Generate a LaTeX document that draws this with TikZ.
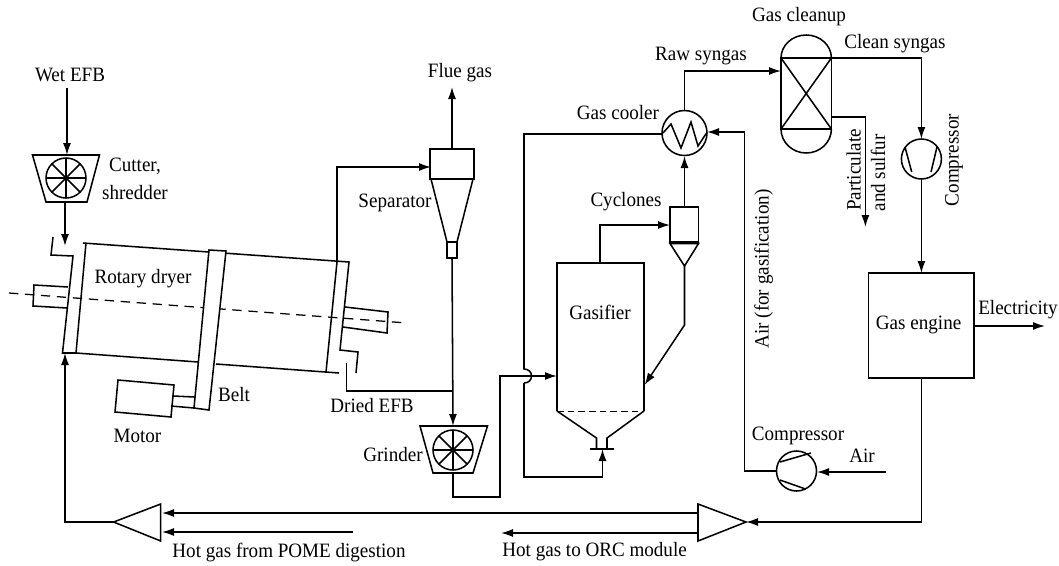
\documentclass[tikz,border=0pt]{standalone}
\usepackage{fontspec}
\setmainfont[FakeStretch=0.935]{Liberation Serif}
\usetikzlibrary{arrows.meta,calc}
\tikzset{
  x=0.75pt,y=-0.75pt,
  line/.style={line width=1.15pt,line join=miter},
  flow/.style={line width=1.15pt,line join=miter,-{Latex[length=9pt,width=6pt]}},
  dashline/.style={line width=0.95pt,dash pattern=on 7pt off 5pt},
  finedash/.style={line width=0.75pt,dash pattern=on 5pt off 3pt},
  lab/.style={inner sep=0pt,font=\fontsize{15.3pt}{21pt}\selectfont,align=center},
  rlab/.style={lab,rotate=90}
}
\begin{document}
\begin{tikzpicture}
\useasboundingbox[fill=white] (0,0) rectangle (1059,565);
% ---------- ports
\coordinate (wetin) at (67,88);
\coordinate (cutT) at (67,155);
\coordinate (cutB) at (65,202);
\coordinate (dryIn) at (65,246);
\coordinate (dryTop) at (337,262);
\coordinate (dryOut) at (346.5,363);
\coordinate (dryHot) at (65,353);
\coordinate (sepIn) at (431,167);
\coordinate (sepT) at (452,149);
\coordinate (sepB) at (452,258);
\coordinate (flue) at (452,87);
\coordinate (grT) at (453,426);
\coordinate (grB) at (453,473);
\coordinate (junc) at (453,391);
\coordinate (gfL) at (557,376);
\coordinate (gfR) at (644.5,385);
\coordinate (gfT) at (600,263);
\coordinate (gfB) at (602.5,449);
\coordinate (cyIn) at (670,225);
\coordinate (cyT) at (684.5,207);
\coordinate (cyB) at (684.5,266);
\coordinate (coolB) at (684.5,156);
\coordinate (coolT) at (684.5,110);
\coordinate (coolL) at (662.5,134);
\coordinate (coolR) at (707,132);
\coordinate (clIn) at (781,71);
\coordinate (clOut) at (831.4,58);
\coordinate (clWaste) at (831.4,117);
\coordinate (wasteEnd) at (865.4,227);
\coordinate (cpT) at (921.4,139);
\coordinate (cpB) at (921.4,179);
\coordinate (geT) at (921.4,273);
\coordinate (geB) at (921.4,378);
\coordinate (geR) at (974,326);
\coordinate (elec) at (1045,326);
\coordinate (acL) at (776.5,471);
\coordinate (acR) at (817,472);
\coordinate (airIn) at (886,472);
\coordinate (spR) at (746,522);
\coordinate (spLu) at (698,513);
\coordinate (spLd) at (698,533);
\coordinate (mxL) at (113.6,522);
\coordinate (mxRu) at (162,513);
\coordinate (mxRd) at (162,532);
\coordinate (pome) at (353,532);
\coordinate (orc) at (501,533);
% ---------- cutter
\draw[line] (32.5,155) -- (99.5,155) -- (87,202) -- (46,202) -- cycle;
\draw[line] (66,178) circle[radius=20];
\foreach \a in {0,45,90,135}{\draw[line] (66,178) ++(\a:20) -- ++(\a+180:40);}
\draw[flow] (wetin) -- (cutT);
\draw[flow] (cutB) -- (dryIn);
% ---------- rotary dryer
\draw[line] (53,237) -- (51,255) -- (73,256) -- (62.5,353) -- (76,353);
\draw[line] (86,243) -- (76,353);
\draw[line] (83,243) -- (349,262) -- (340,350) -- (358,352) -- (356,373);
\draw[line] (337,262) -- (326,372);
\draw[line] (76,353) -- (198,362);
\draw[line] (216,364) -- (339,373);
\draw[line] (68,287) -- (34,285) -- (33,306) -- (67,308);
\draw[line] (345,307) -- (388,312) -- (387,333) -- (343,327);
\draw[dashline] (9,293) -- (407,323);
\draw[line,fill=white] (209,250) -- (226,251) -- (209,410) -- (194,408) -- cycle;
% ---------- motor
\draw[line] (118,380) -- (174,385) -- (171,417) -- (115,412) -- cycle;
\draw[line] (173,396) -- (194.6,397);
\draw[line] (171,406) -- (194,408);
% ---------- separator
\draw[line] (430,149) rectangle (474,179);
\draw[line] (431,179) -- (447,242) -- (457,242) -- (473,179);
\draw[line] (447,242) rectangle (457,258);
\draw[flow] (dryTop) |- (sepIn);
\draw[flow] (sepT) -- (flue);
% ---------- grinder
\draw[line] (420,426) -- (487.5,426) -- (473,473) -- (433,473) -- cycle;
\draw[line] (453,450) circle[radius=20];
\foreach \a in {0,45,90,135}{\draw[line] (453,450) ++(\a:20) -- ++(\a+180:40);}
\draw[flow] (sepB) -- (grT);
\draw[line] (dryOut) |- (junc);
% ---------- gasifier
\draw[line] (557,411) -- (557,263) -- (644,263) -- (644,411);
\draw[finedash] (557,411) -- (644,411);
\draw[line] (557,411) -- (596.5,438) -- (596.5,449);
\draw[line] (644,411) -- (607,438) -- (607,449);
\draw[line] (590,449) -- (613.5,449);
% ---------- grinder to gasifier
\draw[flow] (grB) -- (453,497) -- (500,497) -- (500,376) -- (gfL);
% ---------- cooler loop, with a jump over that line
\draw[line] (coolL) -- (524,134) -- (524,369) .. controls (534,369) and (534,383) .. (524,383);
\draw[flow] (524,383) -- (524,477) -- (602.5,477) -- (gfB);
% ---------- cyclone
\draw[line] (670,207) rectangle (698.5,242);
\draw[line] (670,243.5) -- (684.5,266) -- (698.5,243.5) -- cycle;
\draw[flow] (gfT) |- (cyIn);
\draw[flow] (cyB) -- (684.5,325) -- (gfR);
\draw[flow] (cyT) -- (coolB);
% ---------- gas cooler
\draw[line] (684.5,133) circle[radius=22.5];
\draw[line] (663,133) -- (671,124) -- (681,148) -- (691,122) -- (698,146) -- (706.5,133);
\draw[flow] (coolT) |- (clIn);
% ---------- gas cleanup
\draw[line] (781,58) rectangle (831.4,129);
\draw[line] (781,58) arc[start angle=180,end angle=0,x radius=25.2,y radius=-23];
\draw[line] (781,129) arc[start angle=180,end angle=360,x radius=25.2,y radius=-24];
\draw[line] (781,58) -- (831.4,129) (831.4,58) -- (781,129);
\draw[flow] (clOut) -| (cpT);
\draw[flow] (clWaste) -| (wasteEnd);
% ---------- syngas compressor
\draw[line] (921.4,159) circle[radius=20];
\draw[line] (905,147) -- (911.7,172) (937,147) -- (931,172);
\draw[flow] (cpB) -- (geT);
% ---------- gas engine
\draw[line] (868.5,273) rectangle (974,378);
\draw[flow] (geR) -- (elec);
% ---------- air compressor
\draw[line] (796.5,471) circle[radius=20];
\draw[line] (780,462) -- (811,453) (780,480) -- (805.5,489);
\draw[flow] (airIn) -- (acR);
\draw[flow] (acL) -- (744.6,471) -- (744.6,132) -- (coolR);
% ---------- splitter and mixer
\draw[line] (698,504) -- (spR) -- (698,541) -- cycle;
\draw[line] (mxL) -- (160.7,504) -- (160.7,541) -- cycle;
\draw[flow] (geB) |- (spR);
\draw[flow] (spLu) -- (mxRu);
\draw[flow] (pome) -- (mxRd);
\draw[flow] (spLd) -- (orc);
\draw[flow] (mxL) -| (dryHot);
% ---------- labels
\node[lab] (lwet) at (70,75) {Wet EFB};
\node[lab] (lcut) at (135,179) {Cutter,\\shredder};
\node[lab] (lrot) at (143,279) {Rotary dryer};
\node[lab] (lbelt) at (234,395) {Belt};
\node[lab] (lmotor) at (137.5,436) {Motor};
\node[lab] (ldried) at (372,406) {Dried EFB};
\node[lab] (lgrind) at (393,455) {Grinder};
\node[lab] (lsep) at (395,203) {Separator};
\node[lab] (lflue) at (460,73) {Flue gas};
\node[lab] (lgc) at (799,17) {Gas cleanup};
\node[lab] (lclean) at (895,44) {Clean syngas};
\node[lab] (lraw) at (701,56) {Raw syngas};
\node[lab] (lcool) at (618,113) {Gas cooler};
\node[lab] (lcyc) at (626,202) {Cyclones};
\node[lab] (lgas) at (600,312) {Gasifier};
\node[lab] (lge) at (918.6,325) {Gas engine};
\node[lab] (lelec) at (1018,310) {Electricity};
\node[lab] (lcomp) at (798,436) {Compressor};
\node[lab] (lair) at (862,456) {Air};
\node[lab] (lpome) at (289,553) {Hot gas from POME digestion};
\node[lab] (lorc) at (594.6,552) {Hot gas to ORC module};
\node[rlab] (lpart) at (853.6,170) {Particulate};
\node[rlab] (lsulf) at (878,173) {and sulfur};
\node[rlab] (lcomp2) at (954,160) {Compressor};
\node[rlab] (lairg) at (763.6,269) {Air (for gasification)};
\end{tikzpicture}
\end{document}
